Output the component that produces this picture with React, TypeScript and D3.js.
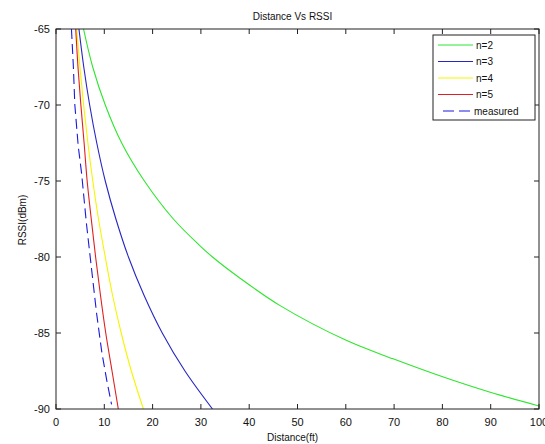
import { useEffect, useRef } from 'react';
import * as d3 from 'd3';

// values: [distance (ft), RSSI (dBm)]
const n2: [number, number][] = [
  [5.7, -65], [7.6, -67.5], [10.2, -70], [13.6, -72.5], [18.3, -75], [24.3, -77.5],
  [29.6, -79.2], [32.4, -80], [37.7, -81.3], [46.4, -83.2], [60.2, -85.5], [69.8, -86.7],
  [80.2, -87.9], [89.9, -88.9], [100, -89.8]
];
const n3: [number, number][] = [
  [4.75, -65], [5.75, -67.5], [6.97, -70], [8.44, -72.5], [10.2, -75], [12.4, -77.5],
  [15.0, -80], [18.2, -82.5], [22.0, -85], [26.7, -87.5], [32.4, -90]
];
const n4: [number, number][] = [
  [4.29, -65], [4.95, -67.5], [5.72, -70], [6.6, -72.5], [7.62, -75], [8.8, -77.5],
  [10.2, -80], [11.7, -82.5], [13.5, -85], [15.6, -87.5], [18.1, -90]
];
const n5: [number, number][] = [
  [4.08, -65], [4.55, -67.5], [5.15, -70], [5.82, -72.5], [6.45, -75], [7.3, -77.5],
  [8.2, -80], [9.2, -82.5], [10.3, -85], [11.6, -87.5], [12.9, -90]
];
const measured: [number, number][] = [
  [3.2, -65], [3.6, -67.5], [3.9, -70], [4.6, -72.7], [5.3, -74.5], [6.3, -77.8],
  [7.4, -80.9], [8.4, -83.7], [9.5, -86.3], [10.5, -88.1], [11.5, -89.7]
];

const xTicks = [0, 10, 20, 30, 40, 50, 60, 70, 80, 90, 100];
const yTicks = [-65, -70, -75, -80, -85, -90];

const series = [
  { label: 'n=2', data: n2, color: '#2ee62e', dash: null },
  { label: 'n=3', data: n3, color: '#2626c4', dash: null },
  { label: 'n=4', data: n4, color: '#f5f500', dash: null },
  { label: 'n=5', data: n5, color: '#e02020', dash: null },
  { label: 'measured', data: measured, color: '#1a1add', dash: '10,5' }
];

export default function App() {
  const svgRef = useRef<SVGSVGElement>(null);

  useEffect(() => {
    if (!svgRef.current) return;
    const width = 545;
    const height = 444;
    const margin = { top: 29, right: 6, bottom: 35, left: 56 };
    const chartWidth = width - margin.left - margin.right;
    const chartHeight = height - margin.top - margin.bottom;

    d3.select(svgRef.current).selectAll('*').remove();
    const svg = d3.select(svgRef.current)
      .attr('width', width)
      .attr('height', height)
      .style('font-family', '"Liberation Sans", Arial, sans-serif');

    svg.append('rect').attr('width', width).attr('height', height).attr('fill', 'white');

    const g = svg.append('g').attr('transform', `translate(${margin.left},${margin.top})`);

    const xScale = d3.scaleLinear().domain([0, 100]).range([0, chartWidth]);
    const yScale = d3.scaleLinear().domain([-90, -65]).range([chartHeight, 0]);

    svg.append('defs').append('clipPath').attr('id', 'plotclip')
      .append('rect').attr('width', chartWidth).attr('height', chartHeight);

    const smooth = d3.line<[number, number]>()
      .x(d => xScale(d[0]))
      .y(d => yScale(d[1]))
      .curve(d3.curveCatmullRom);
    const straight = d3.line<[number, number]>()
      .x(d => xScale(d[0]))
      .y(d => yScale(d[1]));

    const plot = g.append('g').attr('clip-path', 'url(#plotclip)');
    series.forEach(s => {
      plot.append('path')
        .attr('d', s.dash ? straight(s.data) : smooth(s.data))
        .attr('fill', 'none')
        .attr('stroke', s.color)
        .attr('stroke-width', 1.1)
        .attr('stroke-dasharray', s.dash);
    });

    const axisColor = '#222';
    const tickLen = 5;

    // box
    g.append('rect')
      .attr('width', chartWidth).attr('height', chartHeight)
      .attr('fill', 'none').attr('stroke', axisColor).attr('stroke-width', 1);

    // x ticks (bottom and top, inward)
    xTicks.forEach(t => {
      const x = xScale(t);
      g.append('line').attr('x1', x).attr('x2', x).attr('y1', chartHeight).attr('y2', chartHeight - tickLen)
        .attr('stroke', axisColor);
      g.append('line').attr('x1', x).attr('x2', x).attr('y1', 0).attr('y2', tickLen)
        .attr('stroke', axisColor);
      g.append('text')
        .attr('x', x).attr('y', chartHeight + 17)
        .attr('text-anchor', 'middle')
        .style('font-size', '11px')
        .attr('fill', '#111')
        .text(t);
    });

    yTicks.forEach(t => {
      const y = yScale(t);
      g.append('line').attr('x1', 0).attr('x2', tickLen).attr('y1', y).attr('y2', y)
        .attr('stroke', axisColor);
      g.append('line').attr('x1', chartWidth).attr('x2', chartWidth - tickLen).attr('y1', y).attr('y2', y)
        .attr('stroke', axisColor);
      g.append('text')
        .attr('x', -6).attr('y', y)
        .attr('dy', '0.35em')
        .attr('text-anchor', 'end')
        .style('font-size', '11px')
        .attr('fill', '#111')
        .text(t);
    });

    svg.append('text')
      .attr('x', margin.left + chartWidth / 2 - 5)
      .attr('y', 20)
      .attr('text-anchor', 'middle')
      .style('font-size', '10px')
      .attr('fill', '#111')
      .text('Distance Vs RSSI');

    svg.append('text')
      .attr('x', margin.left + chartWidth / 2 - 5)
      .attr('y', 441)
      .attr('text-anchor', 'middle')
      .style('font-size', '10px')
      .attr('fill', '#111')
      .text('Distance(ft)');

    svg.append('text')
      .attr('transform', 'rotate(-90)')
      .attr('x', -220)
      .attr('y', 26)
      .attr('text-anchor', 'middle')
      .style('font-size', '10px')
      .attr('fill', '#111')
      .text('RSSI(dBm)');

    // legend
    const legend = svg.append('g').attr('transform', 'translate(433,35)');
    legend.append('rect')
      .attr('width', 102).attr('height', 85)
      .attr('fill', 'white').attr('stroke', axisColor);
    series.forEach((s, i) => {
      const y = 10 + i * 16.5;
      const isDash = !!s.dash;
      legend.append('line')
        .attr('x1', isDash ? 10 : 5).attr('x2', isDash ? 37 : 40)
        .attr('y1', y).attr('y2', y)
        .attr('stroke', s.color)
        .attr('stroke-width', 1.2)
        .attr('stroke-dasharray', isDash ? '11,5' : null);
      legend.append('text')
        .attr('x', isDash ? 41 : 43).attr('y', y)
        .attr('dy', '0.35em')
        .style('font-size', '10px')
        .attr('fill', '#111')
        .text(s.label);
    });
  }, []);

  return (
    <div style={{ position: 'absolute', left: 0, top: 0 }}>
      <svg ref={svgRef} style={{ display: 'block' }}></svg>
    </div>
  );
}
